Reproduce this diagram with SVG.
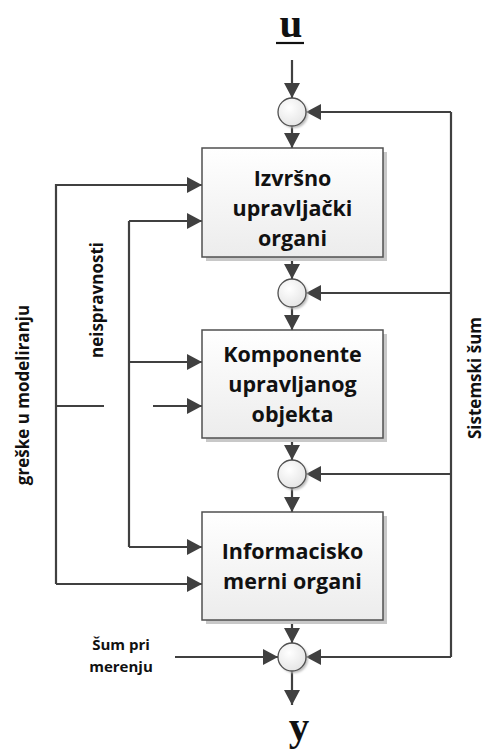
<svg xmlns="http://www.w3.org/2000/svg" width="486" height="756" viewBox="0 0 486 756">
  <style>
    .box { fill: url(#boxFill); stroke: #505050; stroke-width: 1.5; }
    .shadow { fill: #c8c8c8; }
    .sum { fill: url(#sumFill); stroke: #505050; stroke-width: 1.3; }
    .wire { fill: none; stroke: #404040; stroke-width: 2.2; }
    .arrow { fill: none; stroke: #404040; stroke-width: 2.2; marker-end: url(#head); }
    .label { font-family: "Open Sans", "Liberation Sans", sans-serif; font-weight: bold; font-size: 21.5px; fill: #111; text-anchor: middle; }
    .side { font-family: "Open Sans", "Liberation Sans", sans-serif; font-weight: bold; font-size: 17px; fill: #111; text-anchor: middle; }
    .note { font-family: "Open Sans", "Liberation Sans", sans-serif; font-weight: bold; font-size: 15px; fill: #111; text-anchor: middle; }
    .sym { font-family: "Liberation Serif", "Times New Roman", serif; font-weight: bold; font-size: 41px; fill: #111; text-anchor: middle; }
  </style>
  <defs>
    <linearGradient id="boxFill" x1="0" y1="0" x2="0" y2="1">
      <stop offset="0" stop-color="#ffffff"/>
      <stop offset="1" stop-color="#ececec"/>
    </linearGradient>
    <radialGradient id="sumFill" cx="0.4" cy="0.35" r="0.7">
      <stop offset="0" stop-color="#ffffff"/>
      <stop offset="1" stop-color="#e4e4e4"/>
    </radialGradient>
    <filter id="soft" x="-20%" y="-20%" width="140%" height="140%">
      <feGaussianBlur stdDeviation="1.2"/>
    </filter>
    <marker id="head" markerUnits="userSpaceOnUse" markerWidth="16" markerHeight="16" refX="15" refY="8" orient="auto">
      <path d="M0,0 L15,8 L0,16 Z" fill="#404040"/>
    </marker>
  </defs>

  <!-- input and output symbols -->
  <g id="input-u">
    <text class="sym" x="291" y="37">u</text>
    <line x1="276" y1="43" x2="304" y2="43" stroke="#111" stroke-width="2.2"/>
  </g>
  <g id="output-y">
    <text class="sym" x="299" y="740">y</text>
  </g>

  <!-- connectors -->
  <g id="connectors">
    <!-- main forward chain -->
    <line class="arrow" x1="292" y1="60" x2="292" y2="98"/>
    <line class="arrow" x1="292" y1="126" x2="292" y2="148"/>
    <line class="arrow" x1="292" y1="257" x2="292" y2="279"/>
    <line class="arrow" x1="292" y1="307" x2="292" y2="330"/>
    <line class="arrow" x1="292" y1="438" x2="292" y2="460"/>
    <line class="arrow" x1="292" y1="488" x2="292" y2="512"/>
    <line class="arrow" x1="292" y1="620" x2="292" y2="643"/>
    <line class="arrow" x1="292" y1="671" x2="292" y2="705"/>

    <!-- system noise bus on the right -->
    <path class="wire" d="M451,112 L451,657"/>
    <line class="arrow" x1="451" y1="112" x2="306" y2="112"/>
    <line class="arrow" x1="451" y1="293" x2="306" y2="293"/>
    <line class="arrow" x1="451" y1="474" x2="306" y2="474"/>
    <line class="arrow" x1="451" y1="657" x2="306" y2="657"/>

    <!-- measurement noise -->
    <line class="arrow" x1="175" y1="657" x2="278" y2="657"/>

    <!-- modelling error bus (outer) -->
    <path class="wire" d="M202,185 L56,185 L56,584"/>
    <line class="arrow" x1="56" y1="185" x2="202" y2="185"/>
    <line class="wire" x1="56" y1="406" x2="104" y2="406"/>
    <line class="arrow" x1="153" y1="406" x2="202" y2="406"/>
    <line class="arrow" x1="56" y1="584" x2="202" y2="584"/>

    <!-- fault bus (inner) -->
    <path class="wire" d="M129,221 L129,547"/>
    <line class="arrow" x1="129" y1="221" x2="202" y2="221"/>
    <line class="arrow" x1="129" y1="362" x2="202" y2="362"/>
    <line class="arrow" x1="129" y1="547" x2="202" y2="547"/>
  </g>

  <!-- summing junctions -->
  <g id="sum-1">
    <circle cx="294" cy="114" r="14" fill="#bbb" filter="url(#soft)"/>
    <circle class="sum" cx="292" cy="112" r="14"/>
  </g>
  <g id="sum-2">
    <circle cx="294" cy="295" r="14" fill="#bbb" filter="url(#soft)"/>
    <circle class="sum" cx="292" cy="293" r="14"/>
  </g>
  <g id="sum-3">
    <circle cx="294" cy="476" r="14" fill="#bbb" filter="url(#soft)"/>
    <circle class="sum" cx="292" cy="474" r="14"/>
  </g>
  <g id="sum-4">
    <circle cx="294" cy="659" r="14" fill="#bbb" filter="url(#soft)"/>
    <circle class="sum" cx="292" cy="657" r="14"/>
  </g>

  <!-- blocks -->
  <g id="actuator">
    <rect class="shadow" x="206" y="152" width="181" height="109"/>
    <rect class="box" x="202" y="148" width="181" height="109"/>
    <text class="label" x="292.5" y="186">Izvršno</text>
    <text class="label" x="292.5" y="216">upravljački</text>
    <text class="label" x="292.5" y="246">organi</text>
  </g>
  <g id="plant">
    <rect class="shadow" x="206" y="334" width="181" height="108"/>
    <rect class="box" x="202" y="330" width="181" height="108"/>
    <text class="label" x="292.5" y="362">Komponente</text>
    <text class="label" x="292.5" y="392">upravljanog</text>
    <text class="label" x="292.5" y="422">objekta</text>
  </g>
  <g id="sensor">
    <rect class="shadow" x="206" y="516" width="181" height="108"/>
    <rect class="box" x="202" y="512" width="181" height="108"/>
    <text class="label" x="292.5" y="559">Informacisko</text>
    <text class="label" x="292.5" y="589">merni organi</text>
  </g>

  <!-- side labels -->
  <g id="label-modelling">
    <text class="side" transform="translate(29,395) rotate(-90)">greške u modeliranju</text>
  </g>
  <g id="label-faults">
    <text class="side" transform="translate(103,300) rotate(-90)">neispravnosti</text>
  </g>
  <g id="label-system-noise">
    <text class="side" transform="translate(481,378) rotate(-90)">Sistemski šum</text>
  </g>
  <g id="label-measurement-noise">
    <text class="note" x="121" y="650">Šum pri</text>
    <text class="note" x="121" y="672">merenju</text>
  </g>
</svg>
